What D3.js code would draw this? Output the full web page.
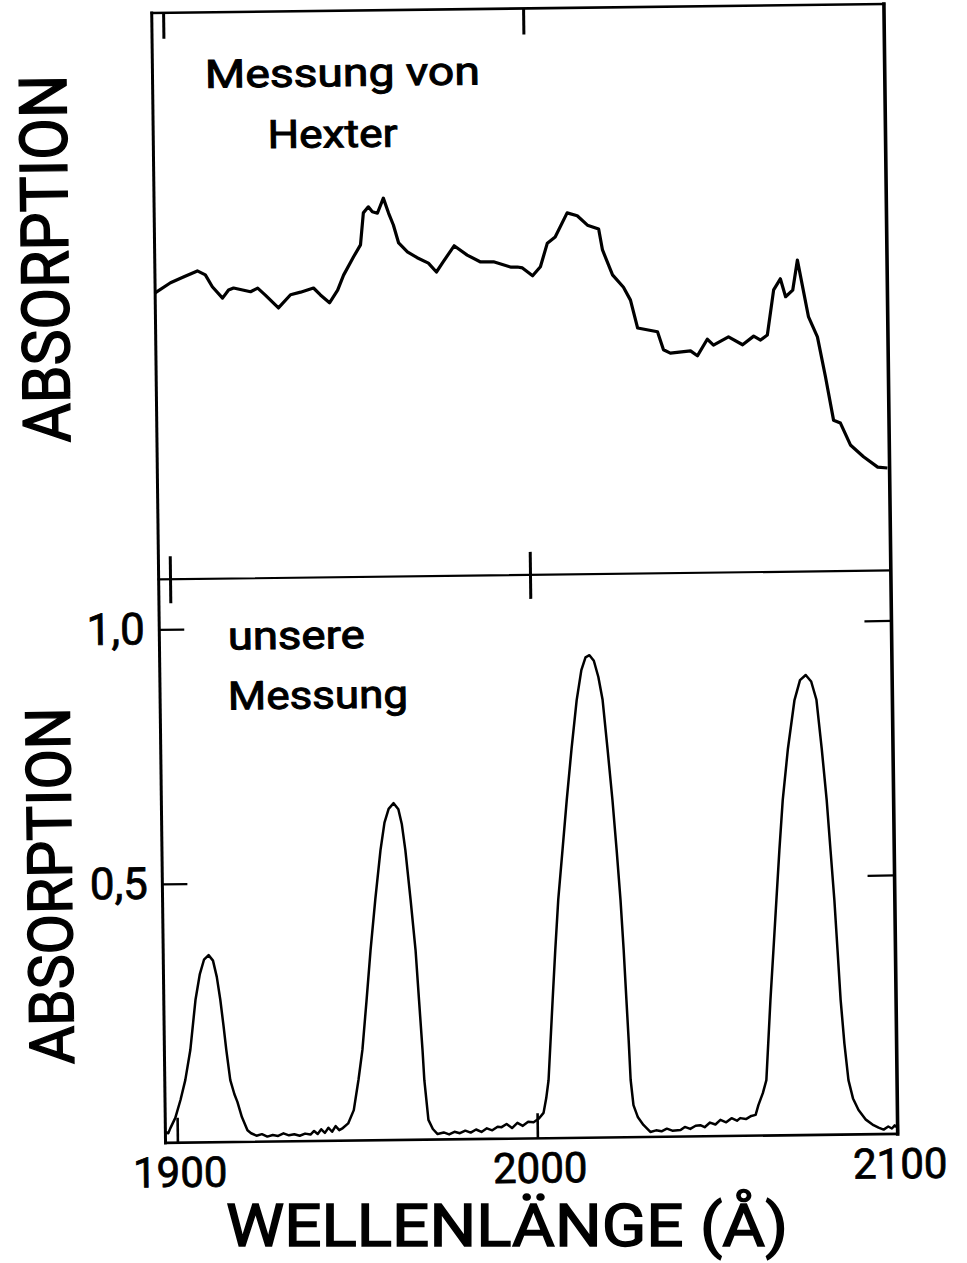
<!DOCTYPE html>
<html><head><meta charset="utf-8">
<script src="https://cdn.jsdelivr.net/npm/d3@7"></script>
<style>body{margin:0;background:#fff} svg{display:block}</style>
</head><body><script>
// ---- data ----
const hexterWavelength = [1896.7,1901.0,1904.6,1908.5,1910.7,1912.6,1915.4,1917.1,1918.5,1923.2,1925.2,1927.3,1930.9,1934.3,1937.1,1940.7,1942.6,1945.1,1947.4,1949.1,1951.9,1953.9,1954.8,1956.2,1957.3,1958.7,1960.4,1961.8,1963.1,1964.5,1966.9,1969.6,1972.7,1974.9,1976.8,1979.9,1983.5,1987.2,1990.8,1995.5,1997.4,1998.8,2001.6,2003.8,2005.8,2008.0,2011.4,2014.2,2017.0,2020.1,2021.1,2023.8,2026.8,2028.7,2030.6,2036.1,2037.7,2039.6,2045.2,2047.1,2049.9,2051.6,2055.8,2059.7,2062.8,2064.7,2066.6,2068.5,2070.4,2071.8,2073.8,2075.2,2078.1,2080.5,2082.6,2084.7,2086.6,2089.3,2092.9,2096.8,2099.5];
const hexterAbsorption = [0.543,0.563,0.574,0.586,0.578,0.554,0.531,0.547,0.551,0.543,0.550,0.536,0.510,0.536,0.541,0.549,0.535,0.519,0.544,0.574,0.610,0.634,0.698,0.710,0.700,0.697,0.727,0.697,0.673,0.637,0.619,0.607,0.596,0.578,0.598,0.630,0.611,0.597,0.597,0.586,0.586,0.584,0.568,0.586,0.633,0.645,0.693,0.687,0.668,0.660,0.618,0.568,0.543,0.517,0.461,0.453,0.417,0.410,0.414,0.404,0.437,0.425,0.441,0.425,0.442,0.434,0.444,0.534,0.556,0.520,0.533,0.593,0.479,0.439,0.359,0.272,0.266,0.222,0.198,0.177,0.175];

const ourWavelength = [1896.7,1897.5,1898.1,1899.5,1901.0,1902.4,1903.9,1905.5,1906.8,1908.0,1909.3,1910.5,1911.5,1912.4,1913.2,1913.9,1914.9,1916.0,1916.8,1918.0,1919.5,1920.5,1922.0,1923.5,1925.0,1926.5,1928.0,1929.5,1931.0,1932.5,1934.0,1935.5,1937.0,1938.0,1939.0,1940.0,1941.0,1942.0,1943.0,1944.0,1945.0,1946.0,1947.5,1949.1,1950.5,1951.7,1953.0,1954.3,1955.8,1957.4,1958.6,1959.8,1961.2,1962.5,1963.4,1964.3,1965.6,1966.8,1967.6,1968.4,1968.8,1969.8,1971.0,1972.3,1974.0,1975.5,1977.0,1978.5,1980.0,1981.5,1983.0,1984.5,1986.0,1987.5,1989.0,1990.1,1991.5,1993.0,1994.5,1996.0,1997.5,1999.0,2000.5,2001.8,2002.6,2003.3,2004.7,2005.6,2006.6,2008.0,2009.3,2010.8,2012.4,2013.8,2015.0,2016.1,2017.3,2018.5,2019.6,2020.8,2022.0,2023.0,2023.9,2024.6,2025.2,2025.7,2026.1,2026.8,2028.0,2029.5,2031.4,2033.0,2034.5,2036.0,2037.5,2039.8,2041.0,2042.5,2044.0,2045.3,2046.5,2048.0,2049.5,2050.9,2052.5,2054.0,2055.5,2056.4,2058.0,2059.5,2060.7,2061.5,2062.8,2063.8,2065.2,2066.2,2067.2,2068.2,2069.3,2070.9,2072.9,2074.5,2076.1,2077.6,2079.0,2080.3,2081.5,2082.4,2083.3,2084.0,2084.7,2085.6,2086.6,2087.8,2089.3,2091.3,2093.4,2094.8,2096.2,2097.5,2098.5,2099.3,2100.0];
const ourAbsorption = [0.012,0.010,0.020,0.040,0.075,0.114,0.173,0.271,0.322,0.350,0.359,0.348,0.316,0.271,0.220,0.172,0.113,0.085,0.070,0.040,0.014,0.008,0.003,0.006,0.001,0.004,0.002,0.007,0.003,0.005,0.002,0.006,0.004,0.011,0.005,0.014,0.007,0.017,0.009,0.020,0.012,0.016,0.025,0.051,0.110,0.169,0.265,0.365,0.465,0.561,0.615,0.642,0.653,0.641,0.612,0.561,0.462,0.364,0.265,0.167,0.108,0.030,0.012,0.002,0.005,0.001,0.006,0.003,0.008,0.004,0.010,0.005,0.012,0.008,0.015,0.014,0.020,0.012,0.022,0.016,0.024,0.023,0.030,0.041,0.070,0.105,0.262,0.360,0.459,0.560,0.655,0.755,0.851,0.910,0.935,0.939,0.928,0.896,0.851,0.755,0.654,0.555,0.457,0.360,0.261,0.180,0.104,0.054,0.030,0.015,0.001,0.004,0.002,0.007,0.003,0.004,0.010,0.006,0.012,0.013,0.009,0.018,0.014,0.023,0.018,0.026,0.021,0.026,0.024,0.030,0.032,0.051,0.075,0.100,0.257,0.355,0.454,0.552,0.650,0.750,0.846,0.885,0.895,0.882,0.846,0.750,0.649,0.550,0.452,0.355,0.256,0.170,0.098,0.062,0.039,0.020,0.009,0.004,0.000,0.006,0.002,0.008,0.004];

const xTickValues = [1900, 2000, 2100];
const xTickLabels = ["1900", "2000", "2100"];
const xInnerTicks = [1900, 2000];
const yTickValues = [0.5, 1.0];
const yTickLabels = ["0,5", "1,0"];
const xAxisTitle = "WELLENLÄNGE (Å)";
const yAxisTitle = "ABSORPTION";
const upperNote = ["Messung von", "Hexter"];
const lowerNote = ["unsere", "Messung"];

// ---- layout ----
const W = 967, H = 1263;
const svg = d3.select("body").append("svg").attr("width", W).attr("height", H);
svg.append("rect").attr("width", W).attr("height", H).attr("fill", "#fff");
const g = svg.append("g").attr("transform", "rotate(-0.7,520,575)");

const x = d3.scaleLinear().domain([1900, 2100]).range([170.5, 890.5]);
const frameL = x(1896.7), frameR = x(2100.1);
const frameT = 8.5, frameM = 575, frameB = 1138.5;
const yTop = d3.scaleLinear().domain([0, 1]).range([560, 60]);
const yBot = d3.scaleLinear().domain([0, 1]).range([1134, 625]);

const FONT = "Roboto, 'DejaVu Sans', sans-serif";

// frame
const ln = (x1, y1, x2, y2, w) => g.append("line")
  .attr("x1", x1).attr("y1", y1).attr("x2", x2).attr("y2", y2)
  .attr("stroke", "#000").attr("stroke-width", w).attr("stroke-linecap", "square");
ln(frameL, frameT, frameR, frameT, 2.6);
ln(frameL, frameT, frameL, frameB, 3);
ln(frameR, frameT, frameR, frameB, 3.6);
ln(frameL, frameM, frameR, frameM, 2.2);
ln(frameL, frameB, frameR, frameB, 2.6);

// ticks on top edge and divider
xInnerTicks.forEach(t => {
  g.append("line").attr("x1", x(t)).attr("x2", x(t)).attr("y1", frameT).attr("y2", frameT + 26)
    .attr("stroke", "#000").attr("stroke-width", 3);
  g.append("line").attr("x1", x(t)).attr("x2", x(t)).attr("y1", frameM - 23).attr("y2", frameM + 24)
    .attr("stroke", "#000").attr("stroke-width", 3);
});

// bottom axis
const xAxis = d3.axisBottom(x).tickValues(xTickValues)
  .tickFormat((d, i) => xTickLabels[i]).tickSize(-25).tickPadding(14.5);
const gx = g.append("g").attr("transform", `translate(0,${frameB})`).call(xAxis);
gx.select(".domain").remove();
gx.selectAll(".tick line").attr("stroke", "#000").attr("stroke-width", 2.6);
gx.selectAll(".tick text").attr("font-family", FONT).attr("font-size", 42)
  .attr("fill", "#000").attr("stroke", "#000").attr("stroke-width", 0.8).attr("dx", 2);

// left axis (lower panel)
const yAxis = d3.axisLeft(yBot).tickValues(yTickValues)
  .tickFormat((d, i) => yTickLabels[i]).tickSize(-25).tickPadding(14.5);
const gy = g.append("g").attr("transform", `translate(${frameL},0)`).call(yAxis);
gy.select(".domain").remove();
gy.selectAll(".tick line").attr("stroke", "#000").attr("stroke-width", 2.2);
gy.selectAll(".tick text").attr("font-family", FONT).attr("font-size", 44)
  .attr("fill", "#000").attr("stroke", "#000").attr("stroke-width", 0.8);

// right ticks (lower panel)
const yAxisR = d3.axisRight(yBot).tickValues(yTickValues).tickFormat("").tickSize(-27);
const gyr = g.append("g").attr("transform", `translate(${frameR},0)`).call(yAxisR);
gyr.select(".domain").remove();
gyr.selectAll(".tick line").attr("stroke", "#000").attr("stroke-width", 2.2);

// curves
const hexter = hexterWavelength.map((w, i) => [w, hexterAbsorption[i]]);
const ours = ourWavelength.map((w, i) => [w, ourAbsorption[i]]);
g.append("path").datum(hexter)
  .attr("d", d3.line().x(d => x(d[0])).y(d => yTop(d[1])))
  .attr("fill", "none").attr("stroke", "#000").attr("stroke-width", 3.2)
  .attr("stroke-linejoin", "round");
g.append("path").datum(ours)
  .attr("d", d3.line().x(d => x(d[0])).y(d => yBot(d[1])))
  .attr("fill", "none").attr("stroke", "#000").attr("stroke-width", 2.5)
  .attr("stroke-linejoin", "round");

// texts
const txt = (parent, s, px, py, size, len, anchor, rot, sw) => {
  const t = parent.append("text").text(s)
    .attr("font-family", FONT).attr("font-size", size)
    .attr("fill", "#000").attr("stroke", "#000").attr("stroke-width", sw || 1)
    .attr("text-anchor", anchor || "start")
    .attr("textLength", len).attr("lengthAdjust", "spacingAndGlyphs");
  if (rot) t.attr("transform", `translate(${px},${py}) rotate(${rot})`);
  else t.attr("x", px).attr("y", py);
  return t;
};
txt(g, upperNote[0], 211, 84, 39, 275);
txt(g, upperNote[1], 273, 145, 39, 130);
txt(g, lowerNote[0], 227, 646, 39, 137);
txt(g, lowerNote[1], 226.5, 706, 39, 180);
txt(g, yAxisTitle, 72, 253, 66, 368, "middle", -90, 1.4);
txt(g, yAxisTitle, 68, 880, 62, 357, "middle", -90, 1.4);
// x-axis title kept level so it stays inside the page
txt(svg, xAxisTitle, 507, 1246, 60, 562, "middle", 0, 1.4);
</script></body></html>
